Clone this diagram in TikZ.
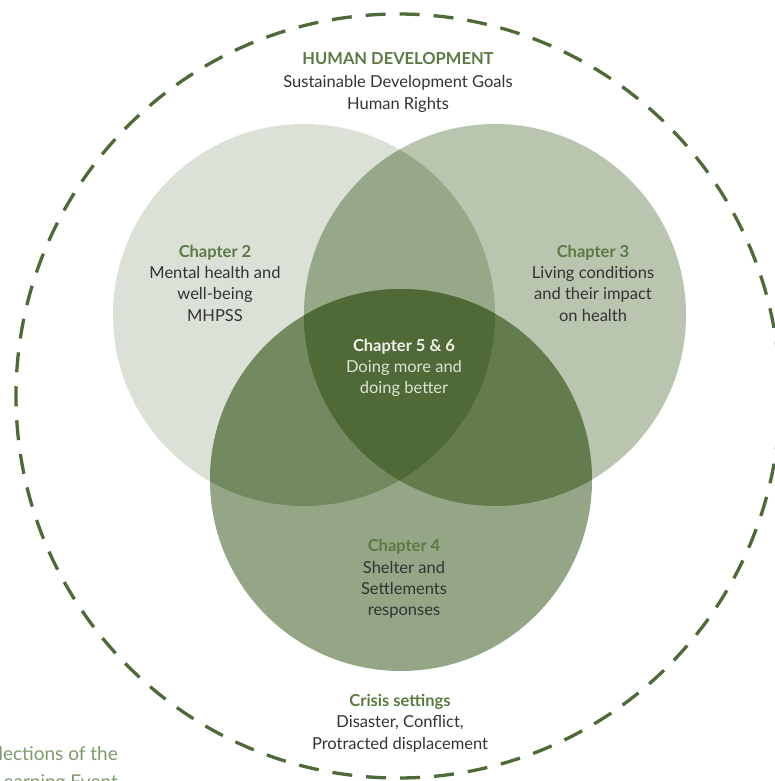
\documentclass[tikz,border=0pt]{standalone}
\usepackage{fontspec}
\setmainfont{Lato}
\definecolor{fillA}{HTML}{DCE1D8}
\definecolor{fillB}{HTML}{BAC5B0}
\definecolor{fillC}{HTML}{95A687}
\definecolor{fillAB}{HTML}{97A888}
\definecolor{fillAC}{HTML}{738A60}
\definecolor{fillBC}{HTML}{637B4D}
\definecolor{fillABC}{HTML}{4F6A37}
\definecolor{headgreen}{HTML}{5B7A42}
\definecolor{dashgreen}{HTML}{4E6A36}
\definecolor{bodygray}{HTML}{333333}
\definecolor{centerhead}{HTML}{F2F2EC}
\definecolor{centerbody}{HTML}{DCE3D4}
\definecolor{sidegreen}{HTML}{7E9A6C}
\begin{document}
\begin{tikzpicture}[x=1pt,y=-1pt,
  txt/.style={align=center,font=\fontsize{16.5}{21.3}\selectfont,text=bodygray,inner sep=0pt}]
\useasboundingbox (0,0) rectangle (775,781);
\coordinate (o) at (398,396);
\coordinate (a) at (304,315);
\coordinate (b) at (495,315);
\coordinate (c) at (401,480);
\def\R{191}
% outer dashed circle
\draw[dashgreen,line width=3.3pt,dash pattern=on 20pt off 14pt] (o) circle (382);
% circles
\fill[fillA] (a) circle (\R);
\fill[fillB] (b) circle (\R);
\fill[fillC] (c) circle (\R);
\begin{scope}\clip (a) circle (\R); \fill[fillAB] (b) circle (\R); \fill[fillAC] (c) circle (\R);\end{scope}
\begin{scope}\clip (b) circle (\R); \fill[fillBC] (c) circle (\R);\end{scope}
\begin{scope}\clip (a) circle (\R); \clip (b) circle (\R); \fill[fillABC] (c) circle (\R);\end{scope}
% texts
\node[txt] (hdev) at (398,82.5) {{\color{headgreen}\bfseries HUMAN DEVELOPMENT}\\[1.5pt]Sustainable Development Goals\\Human Rights};
\node[txt] (ch2) at (215,283) {{\color{headgreen}\bfseries Chapter 2}\\Mental health and\\well-being\\MHPSS};
\node[txt] (ch3) at (593,283) {{\color{headgreen}\bfseries Chapter 3}\\Living conditions\\and their impact\\on health};
\node[txt,text=centerbody] (ch56) at (404,368) {{\color{centerhead}\bfseries Chapter 5 \& 6}\\Doing more and\\doing better};
\node[txt] (ch4) at (404,579) {{\color{headgreen}\bfseries Chapter 4}\\Shelter and\\Settlements\\responses};
\node[txt] (crisis) at (400,723) {{\color{headgreen}\bfseries Crisis settings}\\Disaster, Conflict,\\Protracted displacement};
\node[txt,text=sidegreen,anchor=north east,align=right,font=\fontsize{19}{28}\selectfont] (side) at (118,746) {Reflections of the\\Learning Event};
\end{tikzpicture}
\end{document}
